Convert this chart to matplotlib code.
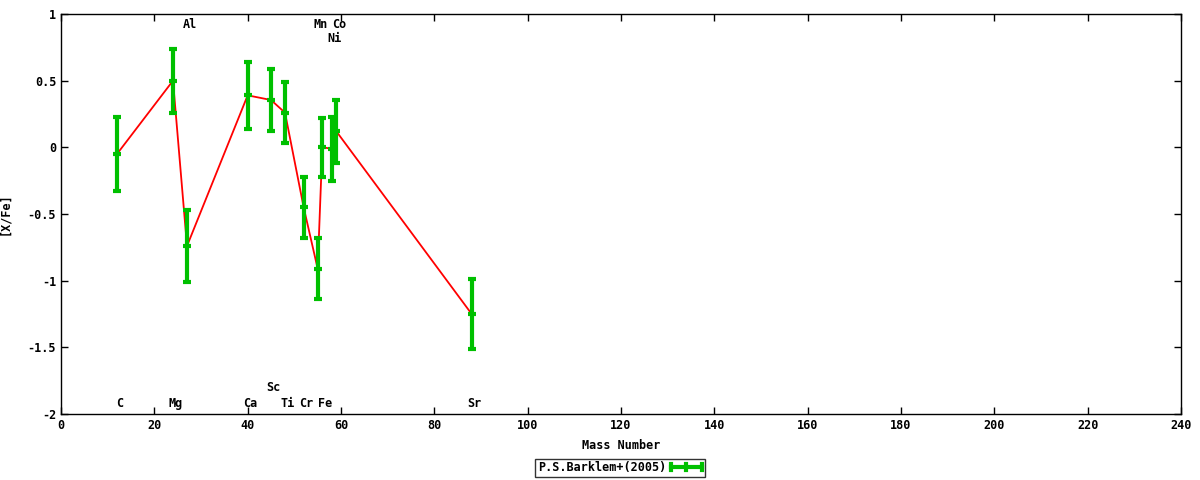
import matplotlib
matplotlib.use("Agg")
import matplotlib.pyplot as plt
from matplotlib.ticker import MultipleLocator
from matplotlib.legend_handler import HandlerBase
from matplotlib.lines import Line2D

plt.rcParams['font.family'] = ['DejaVu Sans Mono']
plt.rcParams['font.weight'] = 'bold'
plt.rcParams['axes.unicode_minus'] = False

# dados
elementos = ["C", "Mg", "Al", "Ca", "Sc", "Ti", "Cr", "Mn", "Fe", "Ni", "Co", "Sr"]
massa = [12, 24, 27, 40, 45, 48, 52, 55, 56, 58, 59, 88]
x_fe = [-0.05, 0.50, -0.74, 0.39, 0.355, 0.26, -0.45, -0.91, 0.0, -0.01, 0.12, -1.25]
erro = [0.28, 0.24, 0.27, 0.25, 0.23, 0.23, 0.23, 0.23, 0.22, 0.24, 0.235, 0.26]
# posicao vertical dos rotulos dos elementos
rotulo_y = [-1.92, -1.92, 0.92, -1.92, -1.80, -1.92, -1.92, 0.92, -1.92, 0.82, 0.92, -1.92]

VERDE = "#00c000"
VERMELHO = "#ff0000"


# amostra da legenda no estilo do gnuplot: linha horizontal com tracos verticais
class AmostraErro(HandlerBase):
    def create_artists(self, legend, orig_handle, xdescent, ydescent,
                       width, height, fontsize, trans):
        yc = height / 2 - ydescent
        h = height * 0.35
        artistas = [Line2D([-xdescent, width - xdescent], [yc, yc],
                           color=VERDE, lw=3, transform=trans)]
        for xx in (-xdescent, (width) / 2 - xdescent, width - xdescent):
            artistas.append(Line2D([xx, xx], [yc - h, yc + h], color=VERDE,
                                   lw=3, transform=trans))
        return artistas


def main():
    fig = plt.figure(figsize=(12, 4.8), dpi=100)
    ax = fig.add_axes([61 / 1200, 1 - 414 / 480, 1120 / 1200, 400 / 480])

    ax.plot(massa, x_fe, color=VERMELHO, lw=1.3, zorder=2)
    barras = ax.errorbar(massa, x_fe, yerr=erro, fmt='_', color=VERDE, ecolor=VERDE,
                         elinewidth=3, capsize=3, capthick=3, ms=6, mew=3,
                         zorder=3)

    for nome, m, y in zip(elementos, massa, rotulo_y):
        ax.text(m + 0.6, y, nome, ha='center', va='center', fontsize=8.5,
                fontweight='bold')

    ax.set_xlim(0, 240)
    ax.set_ylim(-2, 1)
    ax.xaxis.set_major_locator(MultipleLocator(20))
    ax.set_yticks([1, 0.5, 0, -0.5, -1, -1.5, -2])
    ax.set_yticklabels(["1", "0.5", "0", "-0.5", "-1", "-1.5", "-2"])
    ax.tick_params(direction='in', top=True, right=True, length=5,
                   labelsize=8.5, width=1)
    for lado in ax.spines.values():
        lado.set_linewidth(1)

    ax.set_xlabel("Mass Number", fontsize=8.5, fontweight='bold', labelpad=5)
    ax.set_ylabel("[X/Fe]", fontsize=8.5, fontweight='bold', labelpad=12)

    leg = fig.legend([barras], ["P.S.Barklem+(2005)"], loc='center',
                     bbox_to_anchor=(620 / 1200, 1 - 468 / 480),
                     handler_map={type(barras): AmostraErro()},
                     fontsize=8.5, frameon=True, fancybox=False,
                     markerfirst=False, handlelength=2.6, borderpad=0.25,
                     handletextpad=0.4, borderaxespad=0)
    leg.get_frame().set_edgecolor('black')
    leg.get_frame().set_linewidth(1)

    fig.savefig("out.png", dpi=100)


if __name__ == '__main__':
    main()
